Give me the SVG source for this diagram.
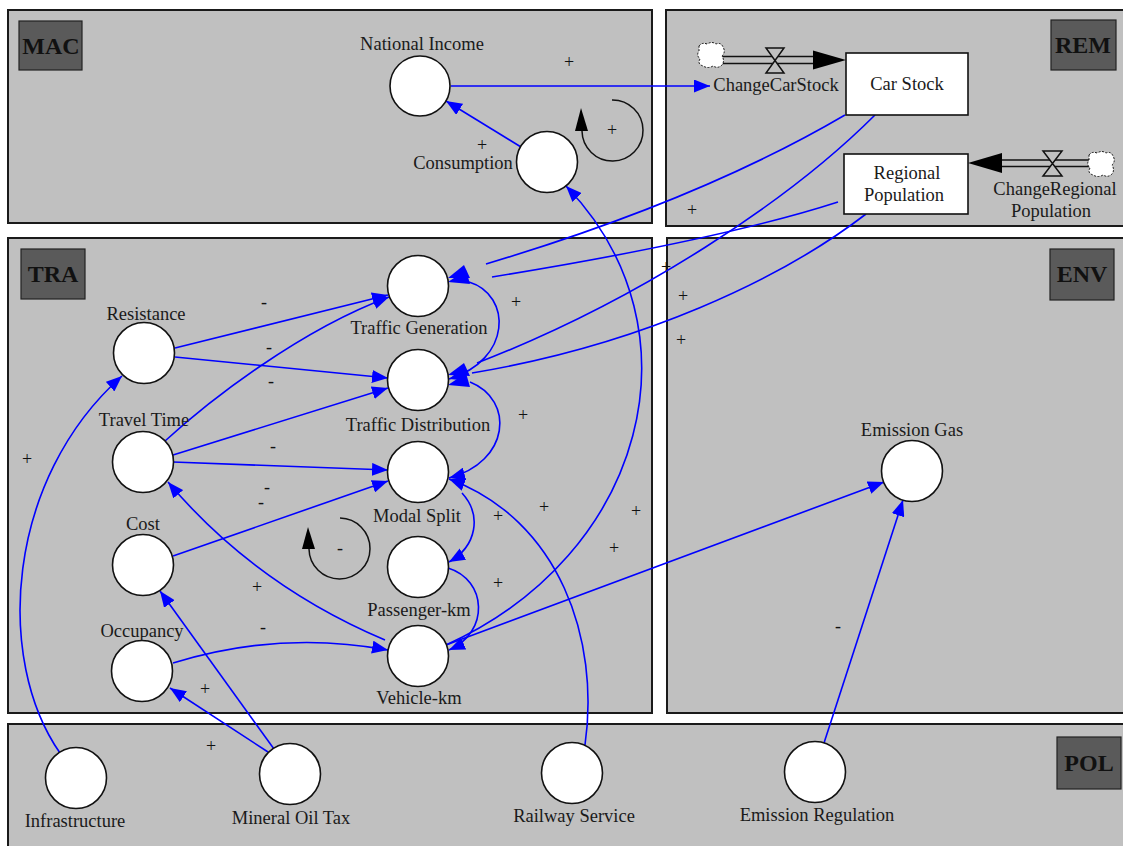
<svg xmlns="http://www.w3.org/2000/svg" width="1123" height="846" viewBox="0 0 1123 846">
<defs>
<style>
.panel{fill:#c0c0c0;stroke:#1a1a1a;stroke-width:2}
.tag{fill:#5a5a5a;stroke:#222;stroke-width:1.2}
.tagt{font-family:"Liberation Serif","Times New Roman",serif;font-weight:bold;font-size:24px;fill:#111;text-anchor:middle}
.n{fill:#fff;stroke:#111;stroke-width:1.6}
.lb{font-family:"Liberation Serif","Times New Roman",serif;font-size:18.5px;fill:#1a1a1a;text-anchor:middle}
.sg{font-family:"Liberation Serif","Times New Roman",serif;font-size:18px;fill:#111;text-anchor:middle}
.c{fill:none;stroke:#0000ff;stroke-width:1.6}
.ca{fill:none;stroke:#0000ff;stroke-width:1.6;marker-end:url(#a)}
.lp{fill:none;stroke:#111;stroke-width:1.5}
.pipe{stroke:#111;stroke-width:1.6;fill:none}
.cloud{fill:#fff;stroke:#111;stroke-width:1;stroke-dasharray:2,1.5}
.ah{fill:#0000ff}
</style>
<marker id="a" markerWidth="17" markerHeight="13" refX="16" refY="6.5" orient="auto" markerUnits="userSpaceOnUse">
<path d="M0,0 L16,6.5 L0,13 Z" fill="#0000ff"/>
</marker>
</defs>
<rect width="1123" height="846" fill="#fff"/>

<g id="panels">
<rect class="panel" x="8" y="10" width="644" height="213"/>
<rect class="panel" x="666" y="10" width="470" height="216"/>
<rect class="panel" x="8" y="238" width="644" height="475"/>
<rect class="panel" x="667" y="238" width="470" height="475"/>
<rect class="panel" x="8" y="724" width="1130" height="130"/>
<rect class="tag" x="19" y="21" width="63" height="49"/>
<text class="tagt" x="51" y="54">MAC</text>
<rect class="tag" x="1051" y="20" width="65" height="50"/>
<text class="tagt" x="1083" y="53">REM</text>
<rect class="tag" x="21" y="249" width="64" height="50"/>
<text class="tagt" x="53" y="282">TRA</text>
<rect class="tag" x="1050" y="249" width="64" height="51"/>
<text class="tagt" x="1082" y="282">ENV</text>
<rect class="tag" x="1057" y="737" width="64" height="52"/>
<text class="tagt" x="1089" y="771">POL</text>
</g>

<g id="connectors">
<path class="ca" d="M451,86 L710,86"/>
<path class="ca" d="M521,147 L446,101"/>
<path class="ca" d="M446,645 C645,555 705,330 566,186"/>
<path class="ca" d="M446,645 L884,482"/>
<path class="ca" d="M824,743 L903,500"/>
<path class="ca" d="M585,745 C600,640 560,520 449,479"/>
<path class="ca" d="M469,282 C512,295 512,360 449,379"/>
<path class="ca" d="M470,382 C515,400 510,462 449,478"/>
<path class="ca" d="M462,493 C482,515 477,546 449,562"/>
<path class="ca" d="M448,568 C487,580 490,632 449,650"/>
<path class="ca" d="M175,348 L388,295"/>
<path class="ca" d="M175,357 L388,378"/>
<path class="ca" d="M165,441 C210,400 300,330 389,297"/>
<path class="ca" d="M173,455 L388,388"/>
<path class="ca" d="M173,462 L388,470"/>
<path class="ca" d="M173,556 L388,481"/>
<path class="ca" d="M385,640 Q255,585 168,482"/>
<path class="ca" d="M173,663 Q280,630 388,650"/>
<path class="ca" d="M268,752 L170,688"/>
<path class="ca" d="M274,749 L160,591"/>
<path class="ca" d="M60,753 C-5,660 5,480 122,376"/>
<path class="c" d="M845,115 Q700,200 486,264"/>
<path class="c" d="M838,202 Q720,240 492,277"/>
<path class="ah" d="M448,278 L464,265 L470,278 Z"/>
<path class="ah" d="M448,282 L466,270 L470,284 Z"/>
<path class="c" d="M875,115 C790,200 640,300 477,363"/>
<path class="ah" d="M448,375 L464,363 L470,376 Z"/>
<path class="c" d="M866,214 C780,280 640,345 472,373"/>
<path class="ah" d="M448,385 L466,373 L470,387 Z"/>
</g>

<g id="signs">
<text class="sg" x="569" y="68">+</text>
<text class="sg" x="482" y="151">+</text>
<text class="sg" x="516" y="308">+</text>
<text class="sg" x="523" y="421">+</text>
<text class="sg" x="498" y="522">+</text>
<text class="sg" x="498" y="589">+</text>
<text class="sg" x="544" y="513">+</text>
<text class="sg" x="636" y="517">+</text>
<text class="sg" x="614" y="554">+</text>
<text class="sg" x="257" y="593">+</text>
<text class="sg" x="205" y="695">+</text>
<text class="sg" x="211" y="752">+</text>
<text class="sg" x="27" y="465">+</text>
<text class="sg" x="692" y="216">+</text>
<text class="sg" x="666" y="273">+</text>
<text class="sg" x="683" y="302">+</text>
<text class="sg" x="681" y="346">+</text>
<text class="sg" x="264" y="308">-</text>
<text class="sg" x="269" y="353">-</text>
<text class="sg" x="271" y="387">-</text>
<text class="sg" x="273" y="452">-</text>
<text class="sg" x="267" y="493">-</text>
<text class="sg" x="261" y="508">-</text>
<text class="sg" x="263" y="633">-</text>
<text class="sg" x="838" y="632">-</text>
</g>

<g id="loop-mac">
<path class="lp" d="M582,131 A30.5,30.5 0 1 0 612,100"/>
<path d="M581,108 L575,131 L588,131 Z" fill="#000"/>
<text class="sg" x="612" y="136">+</text>
</g>
<g id="loop-tra">
<path class="lp" d="M309,549 A30.5,30.5 0 1 0 340,518"/>
<path d="M308,527 L302,549 L315,549 Z" fill="#000"/>
<text class="sg" x="340" y="554">-</text>
</g>

<g id="node-national-income"><circle class="n" cx="420" cy="86" r="30"/><text class="lb" x="422" y="50">National Income</text></g>
<g id="node-consumption"><circle class="n" cx="547" cy="162" r="30.5"/><text class="lb" x="463" y="169">Consumption</text></g>

<g id="node-car-stock"><rect class="n" x="846" y="53" width="122" height="62"/><text class="lb" x="907" y="90">Car Stock</text></g>
<g id="node-regional-population"><rect class="n" x="844" y="154" width="124" height="60"/><text class="lb" x="907" y="179">Regional</text><text class="lb" x="904" y="201">Population</text></g>

<g id="flow-change-car-stock">
<line class="pipe" x1="722" y1="56.5" x2="815" y2="56.5"/>
<line class="pipe" x1="722" y1="63.5" x2="815" y2="63.5"/>
<path d="M846,60 L813,50.5 L813,69.5 Z" fill="#000"/>
<path d="M766,48 H784 L766,73 H784 Z" fill="#c0c0c0" stroke="#111" stroke-width="1.5"/>
<path class="cloud" d="M699,46 Q702,42 707,44 Q712,41 716,44 Q721,42 723,47 Q726,52 722,56 Q725,61 722,65 Q718,69 713,66 Q708,69 703,66 Q697,64 700,59 Q696,55 699,51 Z"/>
<text class="lb" x="776" y="91">ChangeCarStock</text>
</g>

<g id="flow-change-regional-population">
<line class="pipe" x1="1000" y1="160" x2="1090" y2="160"/>
<line class="pipe" x1="1000" y1="166.5" x2="1090" y2="166.5"/>
<path d="M968,163 L1002,153 L1002,173 Z" fill="#000"/>
<path d="M1043,151 H1062 L1043,176 H1062 Z" fill="#c0c0c0" stroke="#111" stroke-width="1.5"/>
<path class="cloud" d="M1089,155 Q1092,151 1097,153 Q1102,150 1106,153 Q1111,151 1113,156 Q1116,161 1112,165 Q1115,170 1112,174 Q1108,178 1103,175 Q1098,178 1093,175 Q1087,173 1090,168 Q1086,164 1089,160 Z"/>
<text class="lb" x="1055" y="195">ChangeRegional</text>
<text class="lb" x="1051" y="217">Population</text>
</g>

<g id="node-traffic-generation"><circle class="n" cx="418" cy="286" r="30.5"/><text class="lb" x="419" y="334">Traffic Generation</text></g>
<g id="node-traffic-distribution"><circle class="n" cx="418" cy="380" r="30.5"/><text class="lb" x="418" y="431">Traffic Distribution</text></g>
<g id="node-modal-split"><circle class="n" cx="418" cy="472" r="30.5"/><text class="lb" x="417" y="522">Modal Split</text></g>
<g id="node-passenger-km"><circle class="n" cx="418" cy="567" r="30.5"/><text class="lb" x="419" y="616">Passenger-km</text></g>
<g id="node-vehicle-km"><circle class="n" cx="418" cy="656" r="30.5"/><text class="lb" x="419" y="704">Vehicle-km</text></g>
<g id="node-resistance"><circle class="n" cx="144" cy="353" r="30.5"/><text class="lb" x="146" y="320">Resistance</text></g>
<g id="node-travel-time"><circle class="n" cx="143" cy="462" r="30.5"/><text class="lb" x="144" y="426">Travel Time</text></g>
<g id="node-cost"><circle class="n" cx="143" cy="565" r="30.5"/><text class="lb" x="143" y="530">Cost</text></g>
<g id="node-occupancy"><circle class="n" cx="142" cy="671" r="30.5"/><text class="lb" x="142" y="637">Occupancy</text></g>
<g id="node-emission-gas"><circle class="n" cx="912" cy="471" r="30.5"/><text class="lb" x="912" y="436">Emission Gas</text></g>
<g id="node-infrastructure"><circle class="n" cx="76" cy="778" r="30.5"/><text class="lb" x="75" y="827">Infrastructure</text></g>
<g id="node-mineral-oil-tax"><circle class="n" cx="290" cy="774" r="30.5"/><text class="lb" x="291" y="824">Mineral Oil Tax</text></g>
<g id="node-railway-service"><circle class="n" cx="572" cy="773" r="30.5"/><text class="lb" x="574" y="822">Railway Service</text></g>
<g id="node-emission-regulation"><circle class="n" cx="815" cy="772" r="30.5"/><text class="lb" x="817" y="821">Emission Regulation</text></g>
</svg>
